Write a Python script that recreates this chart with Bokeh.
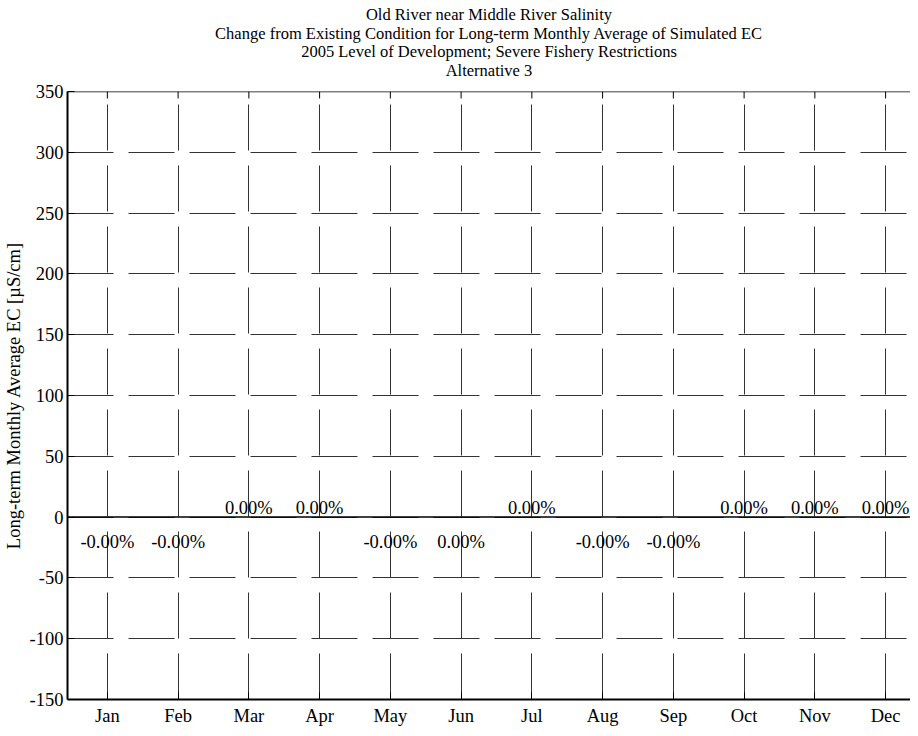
from bokeh.plotting import figure
from bokeh.models import FixedTicker, Range1d, Span, ColumnDataSource
from bokeh.layouts import column
from bokeh.core.properties import value
from bokeh.embed import file_html
from bokeh.resources import INLINE

# ---- data ----
months = ["Jan", "Feb", "Mar", "Apr", "May", "Jun", "Jul", "Aug", "Sep", "Oct", "Nov", "Dec"]
month_pos = [1, 2, 3, 4, 5, 6, 7, 8, 9, 10, 11, 12]
ec_change = [-0.01, -0.01, 0.01, 0.01, -0.01, -0.001, 0.01, -0.01, -0.01, 0.01, 0.01, 0.01]
pct_labels = ["-0.00%", "-0.00%", "0.00%", "0.00%", "-0.00%", "0.00%", "0.00%", "-0.00%", "-0.00%", "0.00%", "0.00%", "0.00%"]
y_ticks = [-150, -100, -50, 0, 50, 100, 150, 200, 250, 300, 350]
y_tick_labels = ["-150", "-100", "-50", "0", "50", "100", "150", "200", "250", "300", "350"]

title_lines = [
    "Old River near Middle River Salinity",
    "Change from Existing Condition for Long-term Monthly Average of Simulated EC",
    "2005 Level of Development; Severe Fishery Restrictions",
    "Alternative 3",
]

FONT = "Liberation Serif"
FS = "18.5px"
TFS = "16.5px"

X0, X1 = 0.4366, 12.352
Y0, Y1 = -150, 350
xr = Range1d(X0, X1)

# ---------- title strip (shares the x range so the text centres over the frame) ----------
TH = 78
tf = figure(width=910, height=TH, output_backend="svg", toolbar_location=None,
            x_range=xr, y_range=Range1d(0, TH), x_axis_type=None, y_axis_type=None,
            min_border_left=64, min_border_right=0, min_border_top=0, min_border_bottom=0)
tf.outline_line_color = None
tf.xgrid.visible = False
tf.ygrid.visible = False
title_baselines = [TH - 14, TH - 32.5, TH - 51, TH - 69.5]
tsrc = ColumnDataSource(dict(x=[(X0 + X1) / 2] * len(title_lines), y=title_baselines, t=title_lines))
tf.text(x="x", y="y", text="t", source=tsrc, text_align="center", text_baseline="alphabetic",
        text_font=value(FONT), text_font_size=TFS, text_color="black")

# ---------- main chart ----------
p = figure(width=910, height=728 - TH, output_backend="svg", toolbar_location=None,
           x_range=xr, y_range=Range1d(Y0, Y1),
           min_border_left=64, min_border_right=0, min_border_top=13, min_border_bottom=27)
p.outline_line_color = None
p.background_fill_color = "white"
p.border_fill_color = None

xa = p.below[0]
ya = p.left[0]
xa.ticker = FixedTicker(ticks=month_pos)
xa.major_label_overrides = {m: lab for m, lab in zip(month_pos, months)}
ya.ticker = FixedTicker(ticks=y_ticks)
ya.major_label_overrides = {t: lab for t, lab in zip(y_ticks, y_tick_labels)}
for ax in (xa, ya):
    ax.axis_line_width = 2
    ax.axis_line_color = "black"
    ax.major_tick_in = 7
    ax.major_tick_out = 0
    ax.minor_tick_in = 0
    ax.minor_tick_out = 0
    ax.major_tick_line_color = "black"
    ax.major_label_text_font = FONT
    ax.major_label_text_font_size = FS
    ax.major_label_text_color = "black"
    ax.major_label_standoff = 4
xa.major_label_standoff = 6
ya.axis_label = "Long-term Monthly Average EC [\u00b5S/cm]"
ya.axis_label_text_font = FONT
ya.axis_label_text_font_size = FS
ya.axis_label_text_font_style = "normal"
ya.axis_label_text_color = "black"
ya.axis_label_standoff = 3

# grid (dashed, MATLAB-like)
p.xgrid.ticker = FixedTicker(ticks=month_pos)
p.ygrid.ticker = FixedTicker(ticks=y_ticks)
for g in (p.xgrid[0], p.ygrid[0]):
    g.grid_line_color = "#333333"
    g.grid_line_width = 1
    g.grid_line_dash = "46 15"

px_per_unit = 610.0 / (Y1 - Y0)

# top box edge with inward ticks (MATLAB "box on")
p.add_layout(Span(location=Y1, dimension="width", line_color="black", line_width=1.5))
p.segment(x0=month_pos, x1=month_pos, y0=[Y1] * 12, y1=[Y1 - 7 / px_per_unit] * 12,
          line_color="black", line_width=1)

# zero line
p.add_layout(Span(location=0, dimension="width", line_color="black", line_width=1.5))

src = ColumnDataSource(dict(x=month_pos, v=ec_change, lab=pct_labels,
                            ly=[(9 if v > 0 else -25) / px_per_unit for v in ec_change],
                            base=[0] * len(ec_change)))
p.vbar(x="x", top="v", bottom="base", width=0.6, source=src, fill_color="#4472c4", line_color=None)
p.text(x="x", y="ly", text="lab", source=src, text_align="center", text_baseline="alphabetic",
       text_font=value(FONT), text_font_size=FS, text_color="black")

layout = column(tf, p, spacing=0)
open("out.html", "w").write(file_html(layout, INLINE))
